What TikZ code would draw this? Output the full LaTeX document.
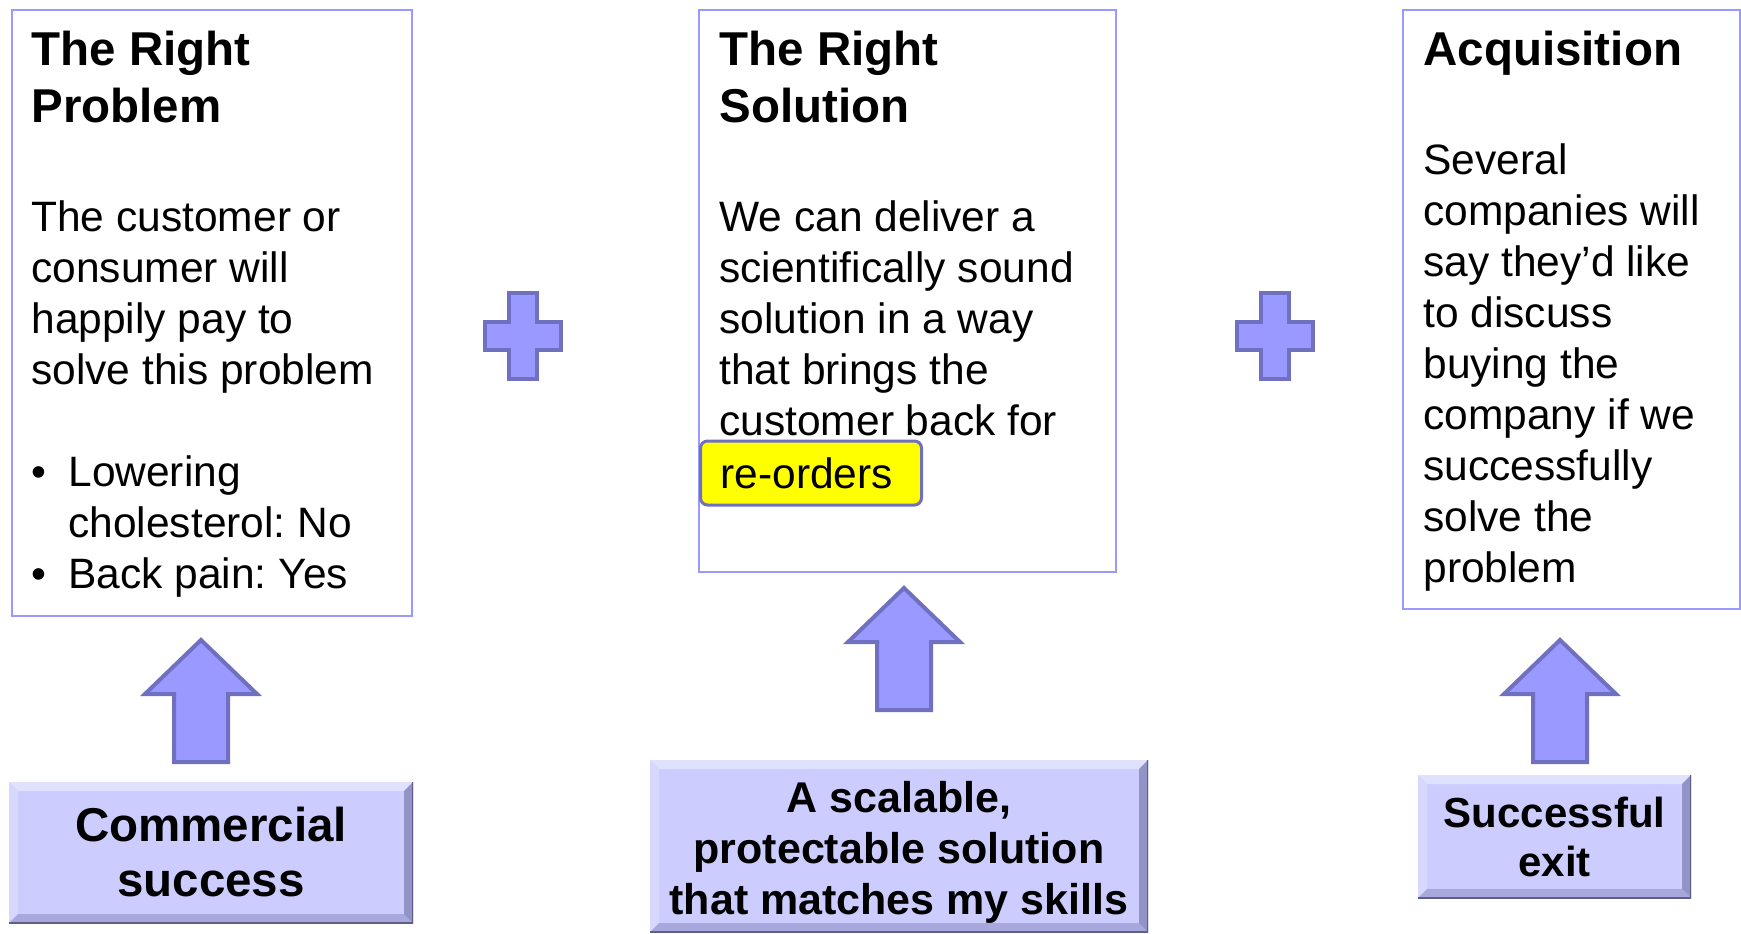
\documentclass[tikz,border=0pt]{standalone}
\usepackage{fontspec}
\setmainfont{Liberation Sans}
\usetikzlibrary{calc}
\frenchspacing
\definecolor{framecol}{HTML}{9999FF}
\definecolor{shapefill}{HTML}{9999FF}
\definecolor{shapeline}{HTML}{7070C0}
\definecolor{bevmain}{HTML}{CCCCFF}
\definecolor{bevtop}{HTML}{E0E0FF}
\definecolor{bevleft}{HTML}{D8D8FF}
\definecolor{bevbot}{HTML}{A8A8DC}
\definecolor{bevright}{HTML}{9393C8}
\definecolor{bevedge}{HTML}{5E5E8A}
\definecolor{hl}{HTML}{FFFF00}
\begin{document}
\begin{tikzpicture}[x=0.5pt,y=-0.5pt,
  framebox/.style={draw=framecol, line width=0.75pt, fill=white, inner sep=0, anchor=north west},
  ttl/.style={font=\fontsize{23.75pt}{28.5pt}\selectfont\bfseries, inner sep=0, anchor=base west},
  body/.style={font=\fontsize{21.25pt}{25.5pt}\selectfont, inner sep=0, anchor=base west},
  blockshape/.style={fill=shapefill, draw=shapeline, line width=2pt, line join=miter},
  hlbox/.style={fill=hl, draw=shapeline, line width=1.5pt, rounded corners=3.5pt,
    anchor=west, inner xsep=10pt, inner ysep=0pt, minimum height=32pt, text width=90.5pt, align=left,
    font=\fontsize{21.25pt}{25.5pt}\selectfont},
  bevelbox/.style={fill=bevmain, inner sep=0, align=center,
    path picture={
      \coordinate (pnw) at (path picture bounding box.north west);
      \coordinate (pne) at (path picture bounding box.north east);
      \coordinate (psw) at (path picture bounding box.south west);
      \coordinate (pse) at (path picture bounding box.south east);
      \fill[bevtop] (pnw) -- (pne) -- ($(pne)+(-9,9)$) -- ($(pnw)+(9,9)$) -- cycle;
      \fill[bevleft] (pnw) -- ($(pnw)+(9,9)$) -- ($(psw)+(9,-9)$) -- (psw) -- cycle;
      \fill[bevbot] (psw) -- ($(psw)+(9,-9)$) -- ($(pse)+(-9,-9)$) -- (pse) -- cycle;
      \fill[bevright] (pne) -- (pse) -- ($(pse)+(-9,-9)$) -- ($(pne)+(-9,9)$) -- cycle;
      \draw[bevedge, line width=1.2pt] (pne) -- (pse) -- (psw);
    }},
  uparrow/.pic={\draw[blockshape] (0,0) -- (56,54) -- (27,54) -- (27,122) -- (-27,122) -- (-27,54) -- (-56,54) -- cycle;},
  plussign/.pic={\draw[blockshape, line width=2.25pt] (-14,-43) -- (14,-43) -- (14,-14) -- (38,-14) -- (38,14) -- (14,14) -- (14,43) -- (-14,43) -- (-14,14) -- (-38,14) -- (-38,-14) -- (-14,-14) -- cycle;}
]
\useasboundingbox (0,0) rectangle (1741,933);
\fill[white] (0,0) rectangle (1741,933);

% framed columns
\node[framebox, minimum width=200pt, minimum height=303pt] (f1) at (11,9) {};
\node[framebox, minimum width=208.5pt, minimum height=281pt] (f2) at (698,9) {};
\node[framebox, minimum width=168.5pt, minimum height=299.5pt] (f3) at (1402,9) {};

% column 1
\node[ttl] (t1) at (31,65) {\parbox[t]{190pt}{The Right\\Problem}};
\node[body] (b1) at (31,231) {\parbox[t]{190pt}{The customer or\\consumer will\\happily pay to\\solve this problem}};
\node[body] (bul1) at (31,486) {•};
\node[body] (l1) at (68,486) {\parbox[t]{160pt}{Lowering\\cholesterol: No}};
\node[body] (bul2) at (31,588) {•};
\node[body] (l2) at (68,588) {Back pain: Yes};

% column 2
\node[ttl] (t2) at (719,65) {\parbox[t]{190pt}{The Right\\Solution}};
\node[body] (b2) at (719,231) {\parbox[t]{195pt}{We can deliver a\\scientifically sound\\solution in a way\\that brings the\\customer back for}};
\node[hlbox] (ro) at (699,473) {re-orders};

% column 3
\node[ttl] (t3) at (1423,65) {Acquisition};
\node[body] (b3) at (1423,174) {\parbox[t]{155pt}{Several\\companies will\\say they’d like\\to discuss\\buying the\\company if we\\successfully\\solve the\\problem}};

% plus signs
\pic (plus1) at (523,336) {plussign};
\pic (plus2) at (1275,336) {plussign};

% block arrows
\pic (ar1) at (201,640) {uparrow};
\pic (ar2) at (904,588) {uparrow};
\pic (ar3) at (1560,640) {uparrow};

% bottom bevel boxes
\node[bevelbox, minimum width=202pt, minimum height=70.5pt,
  font=\fontsize{23.75pt}{27.5pt}\selectfont\bfseries] (cs) at (211,852.5) {Commercial\\success};
\node[bevelbox, minimum width=249pt, minimum height=86pt,
  font=\fontsize{21.5pt}{25.5pt}\selectfont\bfseries] (ss) at (899,846) {\rule{0pt}{21.5pt}A scalable,\\protectable solution\\that matches my skills};
\node[bevelbox, minimum width=136.5pt, minimum height=61.5pt,
  font=\fontsize{21pt}{24.5pt}\selectfont\bfseries] (se) at (1554.5,836.5) {Successful\\exit};
\end{tikzpicture}
\end{document}
